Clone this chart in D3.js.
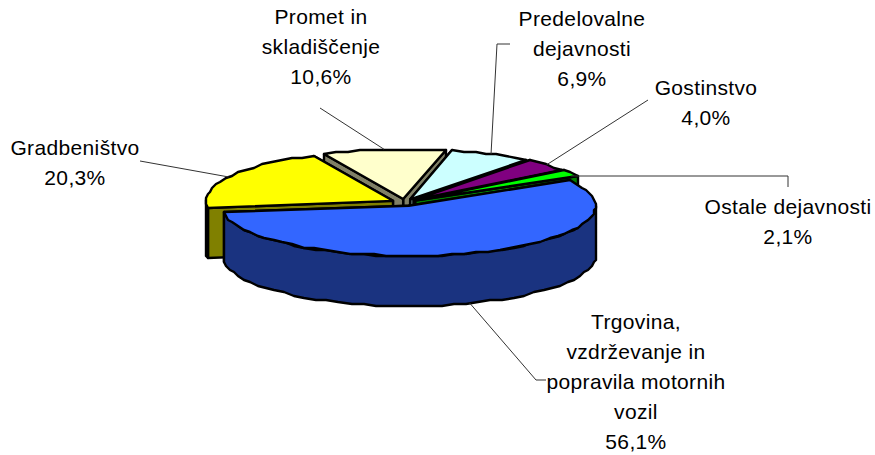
<!DOCTYPE html>
<html><head><meta charset="utf-8">
<script src="https://cdn.jsdelivr.net/npm/d3@7/dist/d3.min.js"></script>
<style>html,body{margin:0;padding:0;background:#fff}svg{display:block}text{font-family:"Liberation Sans",Arial,sans-serif;font-size:21px;letter-spacing:.35px;fill:#000}</style>
</head><body><svg id="c" width="875" height="455"></svg>
<script>
const categories=["Trgovina, vzdrževanje in popravila motornih vozil","Gradbeništvo","Promet in skladiščenje","Predelovalne dejavnosti","Gostinstvo","Ostale dejavnosti"];
const values=[56.1,20.3,10.6,6.9,4.0,2.1];
const valueLabels=["56,1%","20,3%","10,6%","6,9%","4,0%","2,1%"];
const topColors=["#3366FF","#FFFF00","#FFFFCC","#CCFFFF","#800080","#00FF00"];
const sideColors=["#1A3380","#808000","#808066","#668080","#400040","#008000"];
const labelLines=[["Trgovina,","vzdrževanje in","popravila motornih","vozil"],["Gradbeništvo"],["Promet in","skladiščenje"],["Predelovalne","dejavnosti"],["Gostinstvo"],["Ostale dejavnosti"]];

const cx=404.5,cy=202.5,rx=187,ry=50,depth=50,explode=0.07,rotation=60*Math.PI/180,TAU=2*Math.PI;
const svg=d3.select("#c");
const sx=d3.scaleLinear().domain([-1,1]).range([cx-rx,cx+rx]);
const sy=d3.scaleLinear().domain([-1,1]).range([cy-ry,cy+ry]);
const arcs=d3.pie().value(d=>d).sort(null).startAngle(rotation).endAngle(rotation+TAU)(values);
const q=v=>Math.round(v/2)*2;
const off=d=>{const m=(d.startAngle+d.endAngle)/2;return [Math.sin(m)*explode,-Math.cos(m)*explode];};
const pt=(d,a,r=1,dz=0)=>{const o=off(d);return [sx(o[0]+r*Math.sin(a)),sy(o[1]-r*Math.cos(a))+dz];};
const qpt=(d,a,dz=0)=>{const p=pt(d,a,1,0);return [q(p[0]),q(p[1])+dz];};
const arcPts=(d,a0,a1,dz=0)=>{const n=Math.max(1,Math.ceil((a1-a0)/(4*Math.PI/180)));return d3.range(n+1).map(i=>qpt(d,a0+(a1-a0)*i/n,dz));};
const line=d3.line();
function poly(pts,fill){svg.append("path").attr("d",line(pts)+"Z").attr("fill",fill).attr("stroke","#000").attr("stroke-width",2.4).attr("stroke-linejoin","round");}
function frontRange(d){
  const res=[];
  for(let k=-1;k<=2;k++){
    const lo=Math.PI/2+k*TAU,hi=1.5*Math.PI+k*TAU,a=Math.max(lo,d.startAngle),b=Math.min(hi,d.endAngle);
    if(b>a)res.push([a,b]);
  }
  return res;
}
// back slices first, front slices last
[2,3,4,5,1,0].forEach(i=>{
  const d=arcs[i],tip=pt(d,0,0),c=sideColors[i];
  [d.startAngle,d.endAngle].map(a=>qpt(d,a)).sort((u,v)=>u[1]-v[1]).forEach(r=>{
    poly([tip,r,[r[0],r[1]+depth],[tip[0],tip[1]+depth]],c);
  });
  frontRange(d).forEach(([a,b])=>{
    const top=arcPts(d,a,b),bot=arcPts(d,a,b,depth).reverse();
    poly(top.concat(bot),c);
  });
  poly([tip].concat(arcPts(d,d.startAngle,d.endAngle)),topColors[i]);
});
// leaders: first point is the rim of the slice, the rest are elbows next to the label
const elbows=[[[536,380],[546,380]],[[140,161]],[[320,108]],[[497,44],[510,44]],[[648,100]],[[788,176],[788,187]]];
const labelPos=[[636,329,"middle"],[75,155,"middle"],[321,24,"middle"],[582,26,"middle"],[706,95,"middle"],[788,214,"middle"]];
arcs.forEach((d,i)=>{
  const m=(d.startAngle+d.endAngle)/2,a=pt(d,m,1,i===0?depth:0);
  if(i===5)a[1]=elbows[i][0][1];
  svg.append("path").attr("d",line([a].concat(elbows[i]))).attr("fill","none").attr("stroke","#333").attr("stroke-width",1);
});
const lh=30;
categories.forEach((c,i)=>{
  const p=labelPos[i];
  const t=svg.append("text").attr("text-anchor",p[2]);
  labelLines[i].concat(valueLabels[i]).forEach((s,j)=>t.append("tspan").attr("x",p[0]).attr("y",p[1]+j*lh).text(s));
});
</script></body></html>
